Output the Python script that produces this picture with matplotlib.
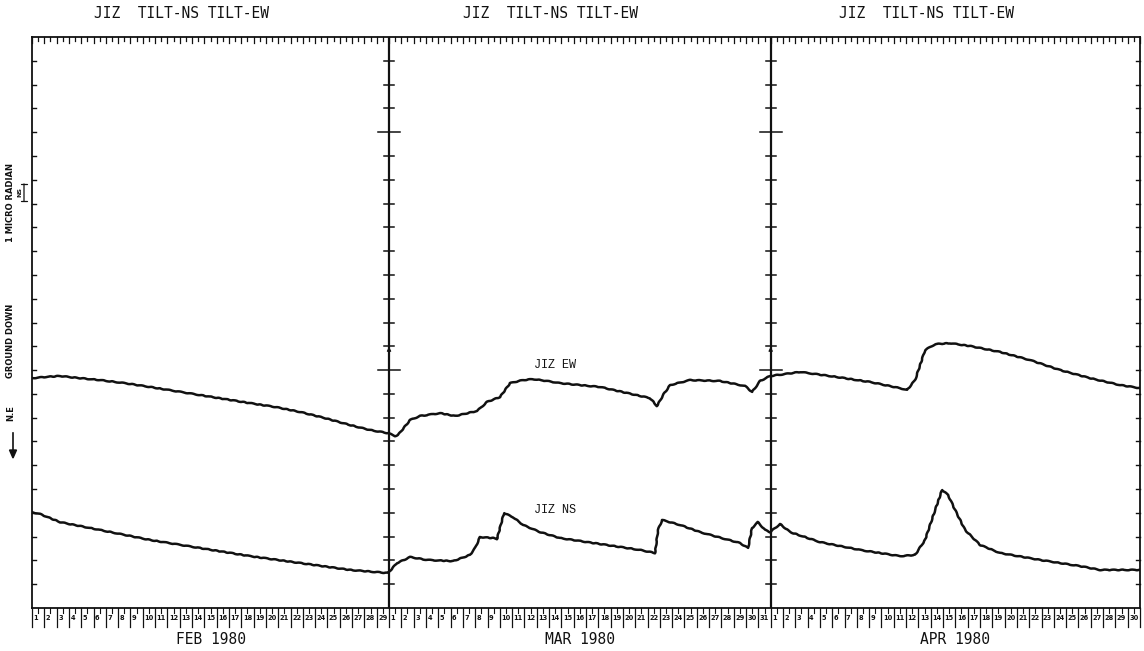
import numpy as np
import matplotlib.pyplot as plt

# JIZ tilt record, Feb-Apr 1980 (x in days since 1 Feb, y in chart units, 1 unit = 1 tick)
month_names = ["FEB 1980", "MAR 1980", "APR 1980"]
month_days = [29, 31, 30]
title_text = "JIZ  TILT-NS TILT-EW"

ew_day = [0.00, 1.06, 2.27, 3.90, 5.52, 7.55, 9.59, 11.62, 13.65, 15.68, 17.71, 19.74,
          21.77, 23.80, 25.83, 27.46, 28.92, 29.49, 29.73, 30.71, 31.52, 33.14, 34.36,
          36.15, 36.96, 38.02, 38.83, 39.89, 40.70, 41.84, 42.89, 46.14, 50.20, 50.77,
          51.26, 51.83, 53.45, 55.89, 57.92, 58.49, 59.14, 59.95, 62.39, 64.83, 68.07,
          70.51, 71.08, 71.73, 72.14, 72.54, 73.36, 74.57, 76.20, 78.64, 81.07, 83.51,
          85.95, 88.38, 90.00]
ew_val = [9.66, 9.71, 9.75, 9.66, 9.58, 9.45, 9.29, 9.12, 8.95, 8.78, 8.61, 8.45,
          8.24, 7.98, 7.69, 7.48, 7.35, 7.23, 7.27, 7.90, 8.07, 8.19, 8.07,
          8.28, 8.66, 8.87, 9.45, 9.58, 9.62, 9.54, 9.45, 9.29, 8.82, 8.49,
          8.95, 9.37, 9.58, 9.54, 9.33, 9.08, 9.54, 9.75, 9.92, 9.75, 9.50,
          9.24, 9.16, 9.58, 10.21, 10.84, 11.09, 11.13, 11.01, 10.76, 10.42, 10.00,
          9.66, 9.37, 9.24]

ns_day = [0.00, 0.65, 2.27, 5.52, 9.59, 13.65, 17.71, 21.77, 25.83, 28.92, 29.65,
          30.71, 32.09, 34.20, 35.58, 35.99, 36.39, 37.45, 37.77, 38.34, 39.07, 39.89,
          41.27, 42.89, 46.14, 49.39, 50.61, 50.85, 51.18, 52.64, 54.26, 57.51, 58.16,
          58.49, 58.97, 59.54, 59.95, 60.76, 61.58, 64.01, 67.26, 70.51, 71.73, 72.54,
          73.36, 73.92, 74.41, 74.98, 75.79, 77.01, 78.64, 81.88, 85.13, 86.76, 90.00]
ns_val = [4.03, 3.95, 3.61, 3.28, 2.86, 2.52, 2.18, 1.89, 1.60, 1.47, 1.89,
          2.14, 2.02, 1.97, 2.23, 2.52, 2.98, 2.94, 2.90, 3.99, 3.82, 3.49,
          3.19, 2.94, 2.69, 2.44, 2.31, 3.28, 3.70, 3.49, 3.19, 2.73, 2.52,
          3.36, 3.61, 3.28, 3.19, 3.53, 3.19, 2.77, 2.44, 2.18, 2.23, 2.86,
          4.12, 4.96, 4.75, 4.12, 3.28, 2.65, 2.31, 2.02, 1.76, 1.60, 1.60]

ink = "#111111"
fig = plt.figure(figsize=(11.44, 6.51), dpi=100)
ax = fig.add_axes([32 / 1144, 43 / 651, 1108 / 1144, 571 / 651])
total = sum(month_days)
ax.set_xlim(0, total)
ax.set_ylim(0, 24)
ax.set_xticks([])
ax.set_yticks([])
for s in ax.spines.values():
    s.set_linewidth(1.3)
    s.set_color(ink)

# px -> data scales
dx = total / 1108.0
dy = 24 / 571.0

# curves (light pen jitter via sketch style)
for xs, ys in [(ew_day, ew_val), (ns_day, ns_val)]:
    line, = ax.plot(xs, ys, color=ink, lw=1.8, solid_joinstyle="round")
    line.set_sketch_params(scale=0.35, length=10, randomness=2)
ax.text(42.5, 10.2, "JIZ EW", family="Liberation Mono", fontsize=8.5, color=ink,
        ha="center", va="center")
ax.text(42.5, 4.1, "JIZ NS", family="Liberation Mono", fontsize=8.5, color=ink,
        ha="center", va="center")

starts = np.cumsum([0] + month_days)
levels = np.arange(1, 24)

# left / right edge ticks
for y in levels:
    ax.plot([0, 4 * dx], [y, y], color=ink, lw=1.0, clip_on=False)
    ax.plot([total - 4 * dx, total], [y, y], color=ink, lw=1.0, clip_on=False)

# month dividers with crossing ticks
for xb in starts[1:-1]:
    ax.plot([xb, xb], [0, 24], color=ink, lw=1.6)
    for y in levels:
        half = 11 * dx if y in (10, 20) else 5 * dx
        ax.plot([xb - half, xb + half], [y, y], color=ink, lw=1.1, clip_on=False)
    ax.annotate("", xy=(xb, 11.1), xytext=(xb, 10.6),
                arrowprops=dict(arrowstyle="-|>", color=ink, lw=0.8, mutation_scale=6))

# top edge: half-day ticks
for i in range(total * 2 + 1):
    d = i / 2
    ln = 6 * dy if i % 2 == 0 else 3.5 * dy
    ax.plot([d, d], [24, 24 - ln], color=ink, lw=0.9, clip_on=False)

# bottom day strip
day_labels = []
for m, nd in enumerate(month_days):
    for k in range(1, nd + 1):
        day_labels.append(str(k))
for i, lab in enumerate(day_labels):
    ax.plot([i, i], [0, -19 * dy], color=ink, lw=0.9, clip_on=False)
    ax.plot([i + 0.5, i + 0.5], [0, -5 * dy], color=ink, lw=0.8, clip_on=False)
    ax.text(i + 0.12, -10 * dy, lab, fontsize=4.8, color=ink, ha="left", va="center",
            family="DejaVu Sans", fontweight="bold", clip_on=False)
ax.plot([total, total], [0, -19 * dy], color=ink, lw=0.9, clip_on=False)

# month captions and titles
for m, name in enumerate(month_names):
    mid = (starts[m] + starts[m + 1]) / 2
    ax.text(mid, -32 * dy, name, family="DejaVu Sans Mono", fontsize=10.5, color=ink,
            ha="center", va="center", clip_on=False)
    ax.text(mid - 29 * dx, 24 + 24 * dy, title_text, family="DejaVu Sans Mono",
            fontsize=10.5, color=ink, ha="center", va="center", clip_on=False)

# left side label
fig.text(11 / 1144, 1 - 203 / 651, "1 MICRO RADIAN", rotation=90, fontsize=6,
         family="DejaVu Sans", fontweight="bold", color=ink, ha="center", va="center")
fig.text(11 / 1144, 1 - 341 / 651, "GROUND DOWN", rotation=90, fontsize=6,
         family="DejaVu Sans", fontweight="bold", color=ink, ha="center", va="center")
fig.text(11 / 1144, 1 - 413 / 651, "N.E", rotation=90, fontsize=6,
         family="DejaVu Sans", fontweight="bold", color=ink, ha="center", va="center")
fig.add_artist(plt.Line2D([13 / 1144, 13 / 1144], [1 - 433 / 651, 1 - 452 / 651],
                          color=ink, lw=1.2))
fig.patches.append(plt.Polygon([[9.5 / 1144, 1 - 450 / 651], [16.5 / 1144, 1 - 450 / 651],
                                [13 / 1144, 1 - 458 / 651]], closed=True, color=ink,
                               transform=fig.transFigure, figure=fig))
# scale bar
ax.annotate("", xy=(-8 * dx, (608 - 181) / 23.8), xytext=(-8 * dx, (608 - 204) / 23.8),
            arrowprops=dict(arrowstyle="|-|", color=ink, lw=0.9, mutation_scale=2),
            annotation_clip=False)
fig.text(20 / 1144, 1 - 192 / 651, "NS", rotation=90, fontsize=4.5, color=ink,
         ha="center", va="center", fontweight="bold")

fig.savefig("out.png", dpi=100, facecolor="white")
